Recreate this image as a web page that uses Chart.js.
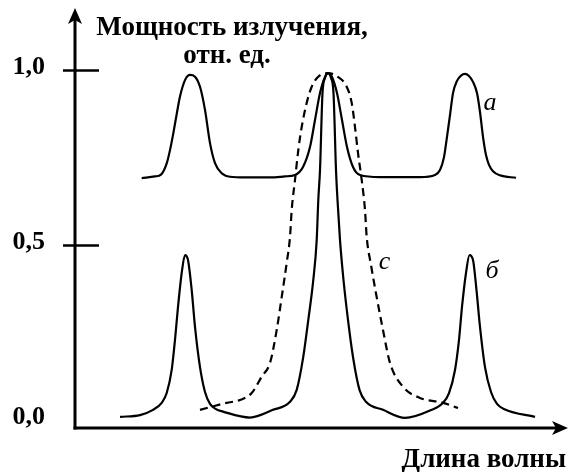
<!DOCTYPE html>
<html>
<head>
  <meta charset="UTF-8" />
  <title>Мощность излучения</title>
  <script src="https://cdn.jsdelivr.net/npm/chart.js"></script>
  <style>
    body {
      margin: 0;
      background-color: #ffffff;
    }
    #box {
      width: 569px;
      height: 472px;
    }
  </style>
</head>
<body>
  <div id="box"><canvas id="grafico" width="569" height="472"></canvas></div>

  <script>
    // кривая а
    const xA = [13.34, 16.0, 17.2, 18.34, 19.0, 19.66, 20.34, 21.0, 22.0, 23.0, 24.0, 25.0, 26.0, 27.0, 28.0, 29.34, 31.0, 34.0,
                39.0, 42.0, 44.0, 45.6, 47.0, 48.0, 49.0, 50.0, 50.6, 51.4, 52.4, 53.4, 54.4, 55.6, 57.0, 61.0,
                69.0, 72.0, 73.0, 73.8, 74.4, 75.0, 75.6, 76.4, 77.2, 78.0, 78.8, 79.6, 80.4, 81.0, 81.6, 82.2, 82.8, 83.6, 85.0, 88.2];
    const yA = [0.691, 0.696, 0.701, 0.733, 0.771, 0.819, 0.874, 0.924, 0.971, 0.986, 0.981, 0.952, 0.886, 0.791, 0.734, 0.705, 0.695, 0.693,
                0.693, 0.696, 0.700, 0.723, 0.780, 0.857, 0.934, 0.980, 0.991, 0.980, 0.934, 0.857, 0.780, 0.723, 0.700, 0.694,
                0.694, 0.700, 0.714, 0.751, 0.809, 0.871, 0.934, 0.969, 0.984, 0.989, 0.983, 0.966, 0.934, 0.880, 0.809, 0.757, 0.729, 0.711, 0.699, 0.692];

    // кривая б
    const xB = [9.0, 13.0, 15.6, 17.34, 18.34, 19.34, 20.0, 20.6, 21.34, 22.0, 22.6, 23.34, 24.0, 25.0, 26.0, 27.0, 28.2, 29.6,
                35.0, 39.6, 43.0, 44.34, 45.66, 46.66, 47.66, 48.34, 48.66, 49.0, 49.5, 50.0, 50.6, 51.2, 51.7, 52.2, 52.5, 53.0, 53.7, 54.6, 55.6, 56.9, 58.2, 61.6,
                66.0, 71.0, 73.6, 74.8, 76.0, 76.8, 77.4, 78.2, 78.9, 79.6, 80.3, 81.0, 82.0, 83.2, 84.4, 86.0, 92.0];
    const yB = [0.009, 0.014, 0.029, 0.049, 0.077, 0.143, 0.229, 0.323, 0.420, 0.471, 0.457, 0.371, 0.266, 0.151, 0.080, 0.046, 0.031, 0.024,
                0.007, 0.029, 0.052, 0.086, 0.181, 0.286, 0.400, 0.514, 0.629, 0.714, 0.934, 0.977, 0.991, 0.977, 0.934, 0.714, 0.629, 0.514, 0.400, 0.286, 0.180, 0.086, 0.052, 0.029,
                0.006, 0.027, 0.049, 0.077, 0.143, 0.229, 0.323, 0.420, 0.471, 0.457, 0.371, 0.266, 0.151, 0.080, 0.046, 0.030, 0.009];

    // кривая с (пунктир)
    const xC = [25.0, 30.34, 33.0, 35.34, 37.34, 39.0, 40.34, 41.34, 42.34, 43.0, 43.34, 44.0, 44.66, 45.34, 46.34, 47.34, 48.6, 50.6,
                52.6, 54.34, 55.34, 56.0, 56.6, 57.34, 58.0, 58.34, 59.2, 60.34, 61.6, 63.0, 65.6, 69.0, 73.6, 76.6];
    const yC = [0.029, 0.049, 0.057, 0.077, 0.124, 0.163, 0.257, 0.351, 0.449, 0.523, 0.600, 0.686, 0.771, 0.837, 0.906, 0.952, 0.980, 0.991,
                0.980, 0.952, 0.906, 0.837, 0.763, 0.686, 0.600, 0.523, 0.443, 0.351, 0.257, 0.163, 0.095, 0.063, 0.049, 0.034];

    const yTicks = [0, 0.5, 1.0];
    const yTickLabels = ['0,0', '0,5', '1,0'];
    const yTickMarks = [0.5, 1.0];

    const tituloY = ['Мощность излучения,', 'отн. ед.'];
    const tituloX = 'Длина волны';
    const nomesCurvas = ['а', 'с', 'б'];
    const posNomes = [[83.0, 0.906], [61.9, 0.451], [83.4, 0.426]];

    function pontos(xs, ys) {
      return xs.map((v, i) => ({ x: v, y: ys[i] }));
    }

    const eixos = {
      id: 'eixos',
      afterDraw(chart) {
        const ctx = chart.ctx;
        const ca = chart.chartArea;
        const sx = chart.scales.x;
        const sy = chart.scales.y;
        ctx.save();
        ctx.strokeStyle = '#000';
        ctx.fillStyle = '#000';
        ctx.lineWidth = 3;

        // eixo y
        ctx.beginPath();
        ctx.moveTo(ca.left, ca.bottom + 1.5);
        ctx.lineTo(ca.left, ca.top + 12);
        ctx.stroke();
        ctx.beginPath();
        ctx.moveTo(ca.left, ca.top);
        ctx.lineTo(ca.left - 7, ca.top + 16);
        ctx.lineTo(ca.left, ca.top + 12);
        ctx.lineTo(ca.left + 7, ca.top + 16);
        ctx.closePath();
        ctx.fill();

        // eixo x
        ctx.beginPath();
        ctx.moveTo(ca.left - 1.5, ca.bottom);
        ctx.lineTo(ca.right - 12, ca.bottom);
        ctx.stroke();
        ctx.beginPath();
        ctx.moveTo(ca.right - 1, ca.bottom);
        ctx.lineTo(ca.right - 17, ca.bottom - 7);
        ctx.lineTo(ca.right - 13, ca.bottom);
        ctx.lineTo(ca.right - 17, ca.bottom + 7);
        ctx.closePath();
        ctx.fill();

        // risquinhos
        ctx.lineWidth = 2.5;
        yTickMarks.forEach(v => {
          const py = Math.round(sy.getPixelForValue(v)) + 0.5;
          ctx.beginPath();
          ctx.moveTo(ca.left - 12, py);
          ctx.lineTo(ca.left + 24, py);
          ctx.stroke();
        });

        // rótulos do eixo y
        ctx.font = 'bold 26px "Liberation Serif"';
        ctx.textAlign = 'right';
        ctx.textBaseline = 'middle';
        yTicks.forEach((v, i) => {
          ctx.fillText(yTickLabels[i], ca.left - 30, sy.getPixelForValue(v) - 3);
        });

        // títulos
        ctx.font = 'bold 27px "Liberation Serif"';
        ctx.textAlign = 'center';
        ctx.textBaseline = 'alphabetic';
        ctx.fillText(tituloY[0], 232, 35);
        ctx.fillText(tituloY[1], 227, 63);
        ctx.textAlign = 'right';
        ctx.fillText(tituloX, 566, 467);

        // nomes das curvas
        ctx.font = 'italic 26px "Liberation Serif"';
        ctx.textAlign = 'center';
        ctx.textBaseline = 'middle';
        nomesCurvas.forEach((t, i) => {
          ctx.fillText(t, sx.getPixelForValue(posNomes[i][0]), sy.getPixelForValue(posNomes[i][1]));
        });
        ctx.restore();
      }
    };

    const estilo = {
      borderColor: '#000',
      borderWidth: 2.2,
      pointRadius: 0,
      fill: false,
      cubicInterpolationMode: 'monotone'
    };

    const grafico = new Chart(document.getElementById('grafico').getContext('2d'), {
      type: 'line',
      data: {
        datasets: [
          Object.assign({ label: 'а', data: pontos(xA, yA) }, estilo),
          Object.assign({ label: 'б', data: pontos(xB, yB) }, estilo),
          Object.assign({ label: 'с', data: pontos(xC, yC), borderDash: [8, 5] }, estilo)
        ]
      },
      options: {
        responsive: false,
        animation: false,
        devicePixelRatio: 1,
        layout: { padding: { top: 8, bottom: 44, left: 75, right: 0 } },
        plugins: { legend: { display: false }, tooltip: { enabled: false } },
        scales: {
          x: { type: 'linear', min: 0, max: 98.8, display: false },
          y: { type: 'linear', min: -0.0229, max: 1.1771, display: false }
        }
      },
      plugins: [eixos]
    });
  </script>
</body>
</html>
